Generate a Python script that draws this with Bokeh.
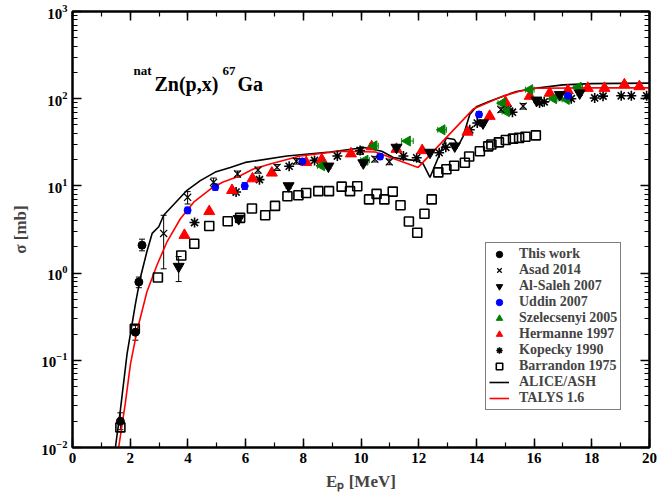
import numpy as np
from bokeh.plotting import figure
from bokeh.models import (LinearAxis, LogAxis, FixedTicker, Legend, LegendItem,
                          Label, Whisker, ColumnDataSource, TeeHead,
                          CustomJSTickFormatter)
from bokeh.embed import file_html
from bokeh.resources import INLINE

# ---------------- data ----------------
this_E = [1.66, 2.18, 2.30, 2.41]
this_s = [0.020, 0.21, 0.79, 2.09]
this_lo = [0.016, 0.17, 0.68, 1.80]
this_hi = [0.025, 0.25, 0.90, 2.45]

asad_E = [3.16, 3.99, 4.89, 5.72, 6.43, 7.09, 7.76, 9.97, 10.48, 10.98, 14.85, 15.62]
asad_s = [2.85, 7.4, 11.0, 13.7, 15.2, 16.3, 19.2, 25.0, 20.3, 18.9, 75.0, 82.0]
asad_lo = [1.12, 6.2, 9.8, 12.6, 14.0, 15.0, 17.8, 23.0, 18.8, 17.5, 70.0, 76.0]
asad_hi = [4.6, 8.6, 12.3, 14.8, 16.4, 17.6, 20.6, 27.0, 21.8, 20.3, 80.0, 88.0]

alsaleh_E = [3.68, 5.76, 7.49, 8.87, 10.08, 11.23, 12.39, 13.25, 14.23, 16.08, 16.89, 17.58]
alsaleh_s = [1.19, 4.2, 10.0, 16.8, 18.3, 27.6, 24.2, 28.6, 52.6, 96.0, 111.0, 116.0]
alsaleh_lo = [0.80, 3.9, 9.4, 15.8, 17.2, 26.0, 22.8, 27.0, 49.5, 90.0, 104.0, 109.0]
alsaleh_hi = [1.55, 4.5, 10.6, 17.8, 19.4, 29.2, 25.6, 30.2, 55.7, 102.0, 118.0, 123.0]

uddin_E = [3.99, 4.95, 5.97, 7.97, 10.66, 14.09, 17.17]
uddin_s = [5.26, 9.7, 10.0, 19.1, 21.7, 66.0, 108.0]
uddin_lo = [4.8, 8.9, 9.1, 17.6, 20.0, 61.0, 100.0]
uddin_hi = [5.7, 10.5, 10.9, 20.6, 23.4, 71.0, 116.0]

szel_E = [8.64, 10.14, 10.45, 11.61, 12.81, 14.90, 15.04, 15.85, 16.68, 17.12, 17.53]
szel_s = [17.0, 19.7, 28.8, 32.7, 44.0, 89.0, 71.0, 127.0, 100.0, 98.0, 135.0]
szel_dE = [0.15, 0.15, 0.15, 0.2, 0.15, 0.15, 0.15, 0.15, 0.15, 0.15, 0.15]

herm_E = [3.88, 4.74, 5.53, 6.24, 6.91, 8.10, 8.64, 9.65, 10.37, 11.23, 12.12, 13.69,
          14.46, 15.01, 15.85, 16.54, 17.17, 17.86, 18.44, 19.13, 19.65]
herm_s = [2.72, 5.1, 8.9, 12.1, 14.1, 18.6, 20.0, 23.4, 28.2, 26.4, 25.5, 41.5,
          63.0, 91.0, 107.0, 116.0, 124.0, 132.0, 132.0, 145.0, 138.0]

kop_E = [4.23, 5.67, 6.48, 7.51, 8.39, 9.18, 9.97, 11.47, 11.93, 12.71, 12.94, 13.77,
         14.03, 15.10, 15.25, 16.19, 16.35, 17.29, 18.10, 18.39, 19.02, 19.37, 19.90]
kop_s = [3.8, 8.5, 11.8, 16.8, 19.6, 22.0, 25.5, 22.0, 21.0, 24.0, 27.7, 44.0,
         52.6, 76.0, 70.0, 89.0, 92.0, 100.0, 102.0, 107.0, 108.0, 108.0, 108.0]

barr_E = [1.66, 2.16, 2.96, 3.77, 4.22, 4.74, 5.38, 5.81, 6.22, 6.68, 7.02, 7.45, 7.83,
          8.10, 8.52, 8.89, 9.33, 9.62, 9.87, 10.28, 10.54, 10.81, 11.10, 11.37, 11.66,
          11.95, 12.20, 12.45, 12.68, 12.96, 13.23, 13.60, 13.75, 14.12, 14.41, 14.52,
          14.78, 15.02, 15.27, 15.48, 15.70, 16.06]
barr_s = [0.017, 0.23, 0.89, 1.59, 2.17, 3.47, 3.93, 4.3, 5.5, 4.6, 5.9, 7.6, 7.8,
          8.3, 8.7, 8.7, 9.8, 8.7, 9.9, 7.0, 8.1, 7.0, 8.6, 6.0, 3.9,
          2.9, 4.8, 7.0, 14.3, 15.5, 17.0, 18.4, 21.7, 25.0, 28.4, 29.8,
          31.6, 33.6, 34.8, 35.5, 36.6, 38.0]

alice_E = [1.49, 1.66, 1.89, 2.18, 2.35, 2.58, 2.76, 2.99, 3.16, 3.97, 4.43, 4.95, 5.47,
           5.99, 7.43, 8.93, 9.85, 10.02, 10.72, 11.12, 11.47, 11.93, 12.16, 12.39,
           12.96, 13.24, 13.37, 13.54, 13.77, 14.00, 14.46, 14.93, 15.39, 15.96, 17.0,
           18.0, 20.0]
alice_s = [0.0102, 0.027, 0.118, 0.44, 0.88, 1.77, 2.85, 3.4, 4.6, 8.9, 11.5, 14.4, 16.3,
           18.6, 22.0, 24.5, 26.9, 28.0, 25.0, 21.2, 20.3, 19.5, 17.8, 12.5,
           35.5, 34.0, 28.7, 37.0, 66.0, 81.0, 93.6, 107.0, 121.0, 131.0, 144.0,
           149.0, 151.0]

talys_E = [1.60, 1.83, 2.01, 2.24, 2.58, 2.93, 3.28, 3.74, 4.20, 4.78, 5.20, 5.81, 6.27,
           6.85, 7.89, 9.27, 10.50, 11.98, 13.89, 14.92, 15.50, 16.08, 18.0, 20.0]
talys_s = [0.0100, 0.032, 0.091, 0.22, 0.61, 1.24, 2.3, 4.2, 6.5, 9.2, 11.0, 13.1, 15.6,
           17.8, 22.0, 25.0, 24.5, 16.3, 76.0, 107.0, 122.0, 132.0, 133.0, 133.0]

x_major = list(range(0, 21, 2))
x_minor = list(range(0, 21))
y_major = [10.0 ** k for k in range(-2, 4)]
y_minor = [m * 10.0 ** k for k in range(-2, 3) for m in range(2, 10)]

legend_labels = ["This work", "Asad 2014", "Al-Saleh 2007", "Uddin 2007",
                 "Szelecsenyi 2005", "Hermanne 1997", "Kopecky 1990",
                 "Barrandon 1975", "ALICE/ASH", "TALYS 1.6"]

FONT = "Liberation Serif"

# ---------------- figure ----------------
p = figure(width=662, height=493, x_range=(0, 20), y_range=(0.01, 1000),
           y_axis_type="log", output_backend="svg", toolbar_location=None,
           min_border_left=72, min_border_right=13, min_border_top=11,
           min_border_bottom=42)
p.grid.visible = False
p.outline_line_color = "black"
p.outline_line_width = 2
p.background_fill_color = "white"
p.border_fill_color = "white"

xt = FixedTicker(ticks=x_major, minor_ticks=x_minor)
yt = FixedTicker(ticks=y_major, minor_ticks=y_minor)
p.xaxis.ticker = xt
p.yaxis.ticker = yt
blank = CustomJSTickFormatter(code="return ''")
p.add_layout(LinearAxis(ticker=xt, formatter=blank, major_label_standoff=0), "above")
p.add_layout(LogAxis(ticker=yt, formatter=blank, major_label_standoff=0), "right")

for ax in p.axis:
    ax.axis_line_width = 2
    ax.major_tick_in = 9
    ax.major_tick_out = 0
    ax.minor_tick_in = 5
    ax.minor_tick_out = 0
    ax.major_tick_line_width = 1.5
    ax.minor_tick_line_width = 1.2
    ax.major_label_text_font = FONT
    ax.major_label_text_font_style = "bold"
    ax.major_label_text_font_size = "15px"
    ax.major_label_text_color = "black"

for ax, text, stand in ((p.left[0], "σ [mb]", 8), (p.below[0], "Eₚ [MeV]", 6)):
    ax.axis_label = text
    ax.axis_label_text_font = FONT
    ax.axis_label_text_font_style = "bold"
    ax.axis_label_text_font_size = "17px"
    ax.axis_label_standoff = stand

# ---------------- lines ----------------
r_alice = p.line(alice_E, alice_s, line_color="black", line_width=1.6)
r_talys = p.line(talys_E, talys_s, line_color="red", line_width=1.6)

# ---------------- error bars ----------------
def vbars(E, lo, hi, color="black"):
    src = ColumnDataSource(dict(x=E, lo=lo, hi=hi))
    w = Whisker(source=src, base="x", lower="lo", upper="hi", line_color=color,
                line_width=1,
                upper_head=TeeHead(size=6, line_color=color, line_width=1),
                lower_head=TeeHead(size=6, line_color=color, line_width=1))
    p.add_layout(w)

vbars(this_E, this_lo, this_hi)
vbars(asad_E, asad_lo, asad_hi)
vbars(alsaleh_E, alsaleh_lo, alsaleh_hi)
vbars(uddin_E, uddin_lo, uddin_hi, "blue")

szel_src = ColumnDataSource(dict(y=szel_s, lo=[e - d for e, d in zip(szel_E, szel_dE)],
                                 hi=[e + d for e, d in zip(szel_E, szel_dE)]))
p.add_layout(Whisker(source=szel_src, base="y", lower="lo", upper="hi", dimension="width",
                     line_color="green", line_width=1,
                     upper_head=TeeHead(size=6, line_color="green", line_width=1),
                     lower_head=TeeHead(size=6, line_color="green", line_width=1)))

# ---------------- markers ----------------
r_barr = p.scatter(barr_E, barr_s, marker="square", size=9, fill_color=None,
                   line_color="black", line_width=1.6)
r_kop = p.scatter(kop_E, kop_s, marker="asterisk", size=10, line_color="black",
                  line_width=1.6)
r_herm = p.scatter(herm_E, herm_s, marker="triangle", size=11, fill_color="red",
                   line_color="red")
r_szel = p.scatter(szel_E, szel_s, marker="triangle", angle=np.pi / 2, size=10,
                   fill_color="green", line_color="green")
r_uddin = p.scatter(uddin_E, uddin_s, marker="circle", size=7, fill_color="blue",
                    line_color="blue")
r_als = p.scatter(alsaleh_E, alsaleh_s, marker="inverted_triangle", size=11,
                  fill_color="black", line_color="black")
r_asad = p.scatter(asad_E, asad_s, marker="x", size=10, line_color="black",
                   line_width=1.2)
r_this = p.scatter(this_E, this_s, marker="circle", size=8, fill_color="black",
                   line_color="black")

renderers = [r_this, r_asad, r_als, r_uddin, r_szel, r_herm, r_kop, r_barr,
             r_alice, r_talys]
legend = Legend(items=[LegendItem(label=l, renderers=[r]) for l, r in zip(legend_labels, renderers)],
                location=(413, 37), orientation="vertical",
                label_text_font=FONT, label_text_font_style="bold",
                label_text_font_size="14px", label_height=16, glyph_height=16,
                glyph_width=20, label_standoff=10, spacing=0, padding=3, margin=0,
                border_line_color="black", border_line_width=1,
                background_fill_alpha=1.0)
p.add_layout(legend)

# ---------------- texts ----------------
def lab(text, x, y, size):
    p.add_layout(Label(x=x, y=y, x_units="screen", y_units="screen", text=text,
                       text_font=FONT, text_font_style="bold",
                       text_font_size=size, text_baseline="alphabetic",
                       text_color="black"))

lab("nat", 61, 377, "13px")
lab("Zn(p,x)", 82, 364, "20px")
lab("67", 150, 377, "13px")
lab("Ga", 165, 364, "20px")

open("out.html", "w").write(file_html(p, INLINE))
